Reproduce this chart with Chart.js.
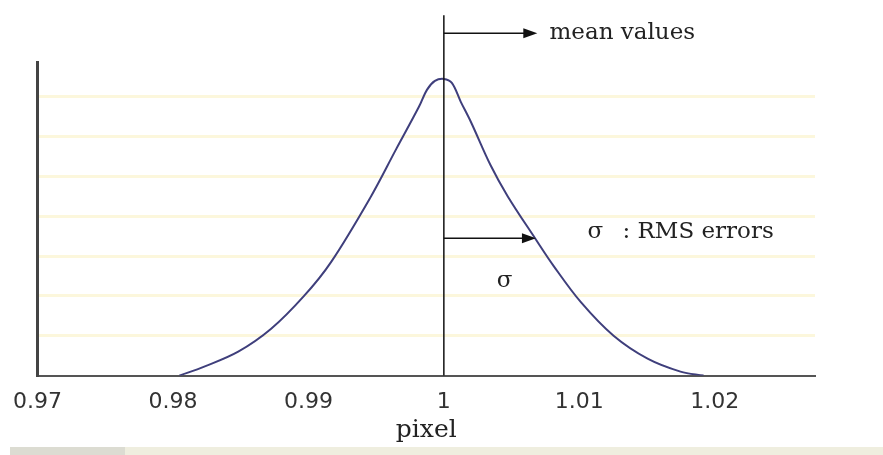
<!DOCTYPE html>
<html>
<head>
<meta charset="utf-8">
<script src="https://cdn.jsdelivr.net/npm/chart.js@4"></script>
<style>
  html, body { margin: 0; padding: 0; background: #ffffff; }
  #wrap { width: 883px; height: 455px; }
</style>
</head>
<body>
<div id="wrap"><canvas id="distChart" width="883" height="455"></canvas></div>
<script>
// values (x in pixel units, y in grid steps)
const pixelValues = [0.98047, 0.98231, 0.98482, 0.98725, 0.98968, 0.99167, 0.99462, 0.99646,
                     0.99816, 0.99875, 0.99934, 1.0000, 1.00059, 1.00125, 1.00199, 1.00346, 1.00472,
                     1.00678, 1.00811, 1.01010, 1.01253, 1.01504, 1.01747, 1.01917];
const frequency   = [0, 0.225, 0.6, 1.175, 2.0, 2.85, 4.5, 5.675,
                     6.75, 7.175, 7.4, 7.45, 7.35, 6.875, 6.375, 5.275, 4.5,
                     3.425, 2.75, 1.85, 1.0, 0.425, 0.1, 0];
const xTicks = [0.97, 0.98, 0.99, 1, 1.01, 1.02];
const yGrid = [1, 2, 3, 4, 5, 6, 7];

const meanValue = 1;
const sigmaValue = 0.0068;

const serif = 'DejaVu Serif';

// lines, arrows and notes on top of the curve
const notes = {
    id: 'notes',
    beforeDraw(chart) {
        const c = chart.ctx;
        c.save();
        c.fillStyle = '#dcdcd2';
        c.fillRect(10, 447, 115, 8);
        c.fillStyle = '#efeedf';
        c.fillRect(125, 447, 758, 8);
        c.restore();
    },
    afterDatasetsDraw(chart) {
        const c = chart.ctx;
        const x = chart.scales.x, y = chart.scales.y;
        const mx = x.getPixelForValue(meanValue);

        function arrow(x1, x2, yy) {
            c.beginPath();
            c.moveTo(x1, yy);
            c.lineTo(x2 - 10, yy);
            c.stroke();
            c.beginPath();
            c.moveTo(x2, yy);
            c.lineTo(x2 - 14, yy - 5);
            c.lineTo(x2 - 14, yy + 5);
            c.closePath();
            c.fill();
        }

        c.save();
        c.strokeStyle = '#111';
        c.fillStyle = '#111';
        c.lineWidth = 1.5;

        // mean line
        c.beginPath();
        c.moveTo(mx, y.getPixelForValue(9.05));
        c.lineTo(mx, y.getPixelForValue(0));
        c.stroke();

        const meanY = y.getPixelForValue(8.6);
        arrow(mx, x.getPixelForValue(1.0069), meanY);

        const sigY = y.getPixelForValue(3.45);
        arrow(mx, x.getPixelForValue(meanValue + sigmaValue), sigY);

        c.textBaseline = 'middle';
        c.textAlign = 'left';
        c.fillStyle = '#222';
        c.font = '23px "' + serif + '"';
        c.fillText('mean values', x.getPixelForValue(1.0078), meanY);
        const noteY = y.getPixelForValue(3.6);
        c.fillText('\u03c3', x.getPixelForValue(1.0106), noteY);
        c.fillText(':', x.getPixelForValue(1.01319), noteY);
        c.fillText('RMS errors', x.getPixelForValue(1.0143), noteY);
        c.fillText('\u03c3', x.getPixelForValue(1.0039), y.getPixelForValue(2.375));
        c.restore();
    }
};

const ctx = document.getElementById('distChart').getContext('2d');
const distChart = new Chart(ctx, {
    type: 'line',
    data: {
        datasets: [
            {
                data: pixelValues.map((v, i) => ({ x: v, y: frequency[i] })),
                borderColor: '#3f3f7c',
                backgroundColor: 'transparent',
                borderWidth: 2,
                pointRadius: 0,
                tension: 0.35
            }
        ]
    },
    options: {
        responsive: false,
        animation: false,
        layout: {
            padding: { left: 37, right: 68, top: 62, bottom: 10 }
        },
        plugins: {
            legend: { display: false },
            tooltip: { enabled: false }
        },
        scales: {
            x: {
                type: 'linear',
                min: 0.97,
                max: 1.0274,
                afterBuildTicks: s => { s.ticks = xTicks.map(v => ({ value: v })); },
                grid: { display: false, drawTicks: false },
                border: { color: '#555', width: 2 },
                ticks: {
                    padding: 13,
                    maxRotation: 0,
                    color: '#333',
                    font: { family: 'DejaVu Sans', size: 22 },
                    callback: v => String(v)
                },
                title: {
                    display: true,
                    text: 'pixel',
                    color: '#222',
                    font: { family: serif, size: 25 },
                    padding: { top: -13, bottom: 0 }
                }
            },
            y: {
                min: 0,
                max: 7.875,
                afterBuildTicks: s => { s.ticks = yGrid.map(v => ({ value: v })); },
                ticks: { display: false },
                grid: { color: '#fcf7dc', lineWidth: 3, drawTicks: false },
                border: { color: '#444', width: 3 }
            }
        }
    },
    plugins: [notes]
});
</script>
</body>
</html>
